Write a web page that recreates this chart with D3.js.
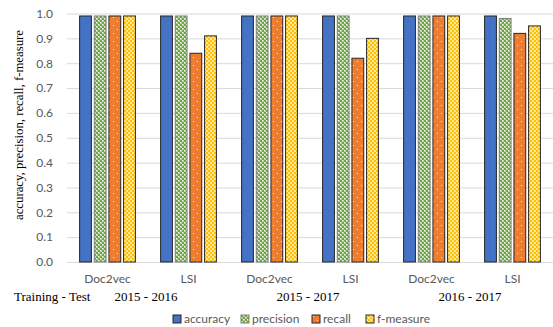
<!DOCTYPE html>
<html>
<head>
<meta charset="utf-8">
<script src="https://cdn.jsdelivr.net/npm/d3@7"></script>
<style>
  html, body { margin: 0; padding: 0; background: #fff; }
  svg { display: block; }
</style>
</head>
<body>
<svg id="chart" width="553" height="327"></svg>
<script>
// Classification scores per model and training/test split
const categories = ["Doc2vec", "LSI", "Doc2vec", "LSI", "Doc2vec", "LSI"];
const periods = ["2015 - 2016", "2015 - 2017", "2016 - 2017"];
const seriesNames = ["accuracy", "precision", "recall", "f-measure"];
const accuracy  = [0.99, 0.99, 0.99, 0.99, 0.99, 0.99];
const precision = [0.99, 0.99, 0.99, 0.99, 0.99, 0.98];
const recall    = [0.99, 0.84, 0.99, 0.82, 0.99, 0.92];
const fmeasure  = [0.99, 0.91, 0.99, 0.90, 0.99, 0.95];
const yTicks = [0, 0.1, 0.2, 0.3, 0.4, 0.5, 0.6, 0.7, 0.8, 0.9, 1.0];

const seriesValues = [accuracy, precision, recall, fmeasure];

const svg = d3.select("#chart");
const plotLeft = 67, plotRight = 553, plotTop = 13.5, plotBottom = 262;

const x = d3.scaleBand().domain(d3.range(categories.length)).range([plotLeft, plotRight]);
const y = d3.scaleLinear().domain([0, 1]).range([plotBottom, plotTop]);

// Fill patterns
const defs = svg.append("defs");
// precision: green lattice
const pg = defs.append("pattern").attr("id", "pPrec").attr("patternUnits", "userSpaceOnUse")
  .attr("width", 4).attr("height", 4);
pg.append("rect").attr("width", 4).attr("height", 4).attr("fill", "#b5d89a");
pg.append("rect").attr("x", 0).attr("y", 0).attr("width", 2).attr("height", 2).attr("fill", "#6fa544");
pg.append("rect").attr("x", 2).attr("y", 2).attr("width", 2).attr("height", 2).attr("fill", "#6fa544");
pg.append("rect").attr("x", 2).attr("y", 0).attr("width", 1).attr("height", 1).attr("fill", "#f4fbee");
pg.append("rect").attr("x", 0).attr("y", 2).attr("width", 1).attr("height", 1).attr("fill", "#f4fbee");
// recall: orange with sparse white dots
const pr = defs.append("pattern").attr("id", "pRec").attr("patternUnits", "userSpaceOnUse")
  .attr("width", 8).attr("height", 8);
pr.append("rect").attr("width", 8).attr("height", 8).attr("fill", "#ed7d31");
pr.append("rect").attr("x", 1).attr("y", 1).attr("width", 1).attr("height", 1).attr("fill", "#fde2cf");
pr.append("rect").attr("x", 5).attr("y", 5).attr("width", 1).attr("height", 1).attr("fill", "#fde2cf");
// f-measure: yellow checker
const pf = defs.append("pattern").attr("id", "pF").attr("patternUnits", "userSpaceOnUse")
  .attr("width", 4).attr("height", 4);
pf.append("rect").attr("width", 4).attr("height", 4).attr("fill", "#ffc000");
pf.append("rect").attr("x", 0).attr("y", 0).attr("width", 2).attr("height", 2).attr("fill", "#ffe699");
pf.append("rect").attr("x", 2).attr("y", 2).attr("width", 2).attr("height", 2).attr("fill", "#ffe699");

const fills = ["#4472c4", "url(#pPrec)", "url(#pRec)", "url(#pF)"];
const strokes = ["#262626", "#808080", "#262626", "#262626"];

// Gridlines and y tick labels
const yAxis = d3.axisLeft(y).tickValues(yTicks).tickFormat(d3.format(".1f"))
  .tickSize(-(plotRight - plotLeft)).tickPadding(14);
const gy = svg.append("g").attr("transform", `translate(${plotLeft},0)`).call(yAxis);
gy.select(".domain").remove();
gy.selectAll(".tick line").attr("stroke", "#d9d9d9").attr("stroke-width", 1);
gy.selectAll(".tick text").attr("fill", "#595959")
  .style("font-family", "Lato, 'Open Sans', sans-serif").style("font-size", "12px");

// Bars
const slot = 14.66, barW = 11.8;
seriesValues.forEach((vals, si) => {
  svg.append("g").selectAll("rect").data(vals).join("rect")
    .attr("x", (d, i) => x(i) + x.bandwidth() / 2 + (si - 1.5) * slot - barW / 2)
    .attr("y", d => y(d))
    .attr("width", barW)
    .attr("height", d => y(0) - y(d))
    .attr("fill", fills[si])
    .attr("stroke", strokes[si])
    .attr("stroke-width", 1);
});

// Category labels
const gx = d3.axisBottom(x).tickFormat(i => categories[i]).tickSize(0).tickPadding(12);
const gxs = svg.append("g").attr("transform", `translate(0,${plotBottom})`).call(gx);
gxs.select(".domain").remove();
gxs.selectAll(".tick text").attr("fill", "#595959")
  .style("font-family", "Lato, 'Open Sans', sans-serif").style("font-size", "12px");

// Period labels under each pair of categories
const serif = "'Liberation Serif', 'Times New Roman', serif";
svg.append("g").selectAll("text").data(periods).join("text")
  .attr("x", (d, i) => (x(2 * i) + x(2 * i + 1) + x.bandwidth()) / 2 - 2)
  .attr("y", 301)
  .attr("text-anchor", "middle")
  .style("font-family", serif).style("font-size", "13px").attr("fill", "#000")
  .text(d => d);
svg.append("text").attr("x", 14).attr("y", 301)
  .style("font-family", serif).style("font-size", "13px").attr("fill", "#000")
  .text("Training - Test");

// Y axis title
svg.append("text")
  .attr("transform", "translate(23,125) rotate(-90)")
  .attr("text-anchor", "middle")
  .attr("textLength", 190).attr("lengthAdjust", "spacingAndGlyphs")
  .style("font-family", serif).style("font-size", "12.5px").attr("fill", "#000")
  .text("accuracy, precision, recall, f-measure");

// Legend
const legendX = [173, 241, 312, 366];
const lg = svg.append("g").selectAll("g").data(seriesNames).join("g")
  .attr("transform", (d, i) => `translate(${legendX[i]},315)`);
lg.append("rect").attr("width", 8).attr("height", 8)
  .attr("fill", (d, i) => fills[i]).attr("stroke", (d, i) => strokes[i]);
lg.append("text").attr("x", 11).attr("y", 8)
  .style("font-family", "Lato, 'Open Sans', sans-serif").style("font-size", "12px").attr("fill", "#595959")
  .text(d => d);
</script>
</body>
</html>
